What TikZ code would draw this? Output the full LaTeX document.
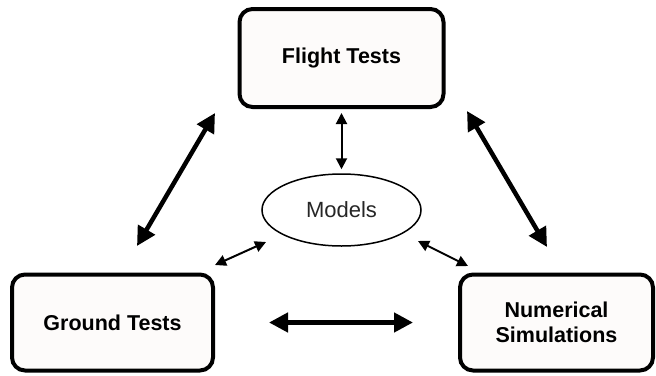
\documentclass[tikz,border=0pt]{standalone}
\usepackage{fontspec}
\setmainfont{Liberation Sans}
\usetikzlibrary{arrows.meta,shapes.geometric}
\definecolor{boxfill}{HTML}{FDFBFA}

\begin{document}
\begin{tikzpicture}[x=1pt,y=-1pt,
  testbox/.style={draw, line width=4pt, rounded corners=13pt, fill=boxfill,
    inner sep=0pt, align=center, font=\fontsize{21.5}{25}\selectfont\bfseries},
  bigarrow/.style={{Triangle[length=19pt,width=19pt]}-{Triangle[length=19pt,width=19pt]}, line width=4.5pt},
  smallarrow/.style={{Triangle[length=11pt,width=11pt]}-{Triangle[length=11pt,width=11pt]}, line width=2pt}]

\useasboundingbox (0,0) rectangle (656,375);

% Boxes
\node[testbox, minimum width=204pt, minimum height=98pt] (flight) at (341.5,58) {Flight Tests};
\node[testbox, minimum width=201pt, minimum height=96pt] (ground) at (112.5,322.5) {Ground Tests};
\node[testbox, minimum width=193pt, minimum height=96pt] (numsim) at (556.5,322.5) {Numerical\\Simulations};

% Models
\node[ellipse, draw, line width=1.5pt, fill=white, inner sep=0pt,
  minimum width=159pt, minimum height=72pt,
  font=\fontsize{22}{26}\selectfont, text=black!85] (models) at (341.5,210) {Models};

% Free ends of the slanted arrows
\coordinate (gtop) at (215,113);
\coordinate (gbot) at (137,246);
\coordinate (ntop) at (467,111);
\coordinate (nbot) at (547,247);
\coordinate (mleft) at (266,242);
\coordinate (gright) at (215,265);
\coordinate (mright) at (418,241);
\coordinate (nleft) at (468,266);

% Thick arrows
\draw[bigarrow] (gtop) -- (gbot);
\draw[bigarrow] (ntop) -- (nbot);
\draw[bigarrow, shorten <=54pt, shorten >=45pt] (ground.east) -- (numsim.west);

% Thin arrows
\draw[smallarrow, shorten <=4pt, shorten >=4pt] (flight.south) -- (models.north);
\draw[smallarrow] (mleft) -- (gright);
\draw[smallarrow] (mright) -- (nleft);

\end{tikzpicture}
\end{document}
